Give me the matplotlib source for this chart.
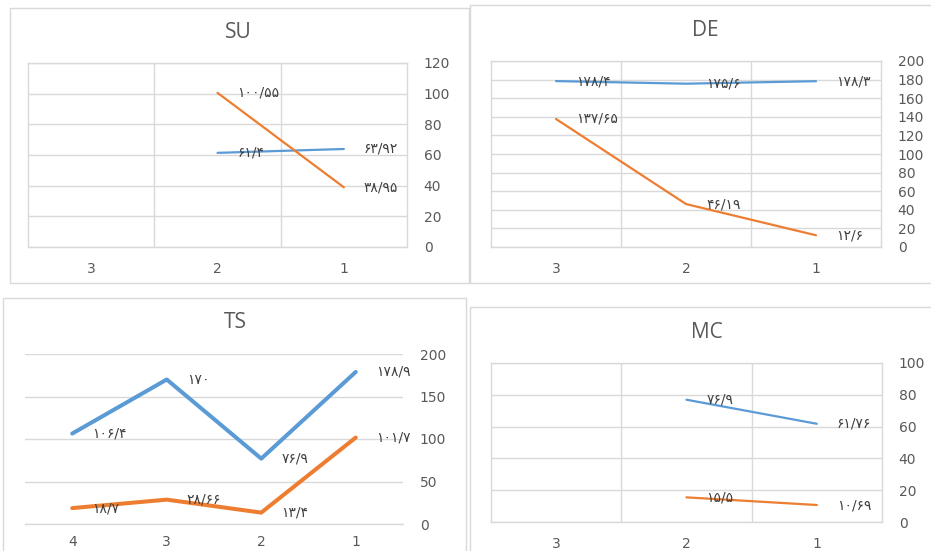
import numpy as np
import matplotlib
matplotlib.use("Agg")
import matplotlib.pyplot as plt
from matplotlib.patches import Rectangle

# ---- data -------------------------------------------------------------
su_cats = [1, 2, 3]
su_blue = [63.92, 61.4, np.nan]
su_orange = [38.95, 100.55, np.nan]

de_cats = [1, 2, 3]
de_blue = [178.3, 175.6, 178.4]
de_orange = [12.6, 46.19, 137.65]

ts_cats = [1, 2, 3, 4]
ts_blue = [178.9, 76.9, 170, 106.4]
ts_orange = [101.7, 13.4, 28.66, 18.7]

mc_cats = [1, 2, 3]
mc_blue = [61.76, 76.9, np.nan]
mc_orange = [10.69, 15.5, np.nan]

# ---- style ------------------------------------------------------------
W, H = 931, 551
BLUE = "#5B9BD5"
ORANGE = "#ED7D31"
GRID = "#D9D9D9"
TXT = "#595959"
LBL = "#404040"
TICK_FONT = ["DejaVu Sans"]
TITLE_FONT = ["Open Sans", "DejaVu Sans"]
LABEL_FONT = ["DejaVu Sans"]

PERSIAN = str.maketrans("0123456789.", "۰۱۲۳۴۵۶۷۸۹/")


def fa(v):
    return f"{v:g}".translate(PERSIAN)


def px_rect(x0, y0, x1, y1):
    return [x0 / W, 1 - y1 / H, (x1 - x0) / W, (y1 - y0) / H]


fig = plt.figure(figsize=(W / 100, H / 100), dpi=100)
fig.patch.set_facecolor("white")

# chart frames
for (x0, y0, x1, y1) in [(10, 8, 469, 283), (470, 5, 935, 283),
                         (3, 298, 466, 560), (470, 307, 935, 560)]:
    fig.add_artist(Rectangle((x0 / W, 1 - y1 / H), (x1 - x0) / W, (y1 - y0) / H,
                             transform=fig.transFigure, fill=False,
                             edgecolor=GRID, linewidth=1.0))


def panel(box, title, title_xy, cats, blue, orange, ymax, ystep,
          vgrid=True, lw=1.6, xpad=11):
    ax = fig.add_axes(px_rect(*box))
    n = len(cats)
    ax.set_xlim(n + 0.5, 0.5)
    ax.set_ylim(0, ymax)
    ax.set_yticks(np.arange(0, ymax + 1, ystep))
    ax.set_xticks(cats)
    ax.set_xticklabels([str(c) for c in cats])
    ax.yaxis.tick_right()
    ax.tick_params(axis="both", length=0, colors=TXT, labelsize=10)
    ax.tick_params(axis="y", pad=12)
    ax.tick_params(axis="x", pad=xpad)
    for lab in ax.get_xticklabels() + ax.get_yticklabels():
        lab.set_fontfamily(TICK_FONT)
    ax.grid(axis="y", color=GRID, linewidth=1.0)
    ax.set_axisbelow(True)
    if vgrid:
        for xb in np.arange(1.5, n, 1.0):
            ax.axvline(xb, color=GRID, linewidth=1.0, zorder=0)
        for s in ax.spines.values():
            s.set_color(GRID)
            s.set_linewidth(1.0)
    else:
        for s in ["left", "right", "top"]:
            ax.spines[s].set_visible(False)
        ax.spines["bottom"].set_color(GRID)
        ax.spines["bottom"].set_linewidth(1.0)
    ax.plot(cats, blue, color=BLUE, linewidth=lw, solid_capstyle="round", zorder=3)
    ax.plot(cats, orange, color=ORANGE, linewidth=lw, solid_capstyle="round", zorder=3)
    for series in (blue, orange):
        for c, v in zip(cats, series):
            if np.isnan(v):
                continue
            ax.annotate(fa(v), (c, v), xytext=(20, 0), textcoords="offset pixels",
                        ha="left", va="center", fontsize=10, color=LBL,
                        family=LABEL_FONT, zorder=4, annotation_clip=False)
    fig.text(title_xy[0] / W, 1 - title_xy[1] / H, title, ha="center",
             va="center", fontsize=15, color=TXT, family=TITLE_FONT)
    return ax


panel((28, 63, 407, 247), "SU", (238, 32), su_cats, su_blue, su_orange, 120, 20)
panel((491, 61, 881, 247), "DE", (705, 30), de_cats, de_blue, de_orange, 200, 20)
panel((25, 354, 403, 524), "TS", (235, 323), ts_cats, ts_blue, ts_orange, 200, 50,
      vgrid=False, lw=2.9, xpad=8)
panel((491, 363, 882, 522), "MC", (707, 332), mc_cats, mc_blue, mc_orange, 100, 20)

fig.savefig("out.png", dpi=100, facecolor="white")
